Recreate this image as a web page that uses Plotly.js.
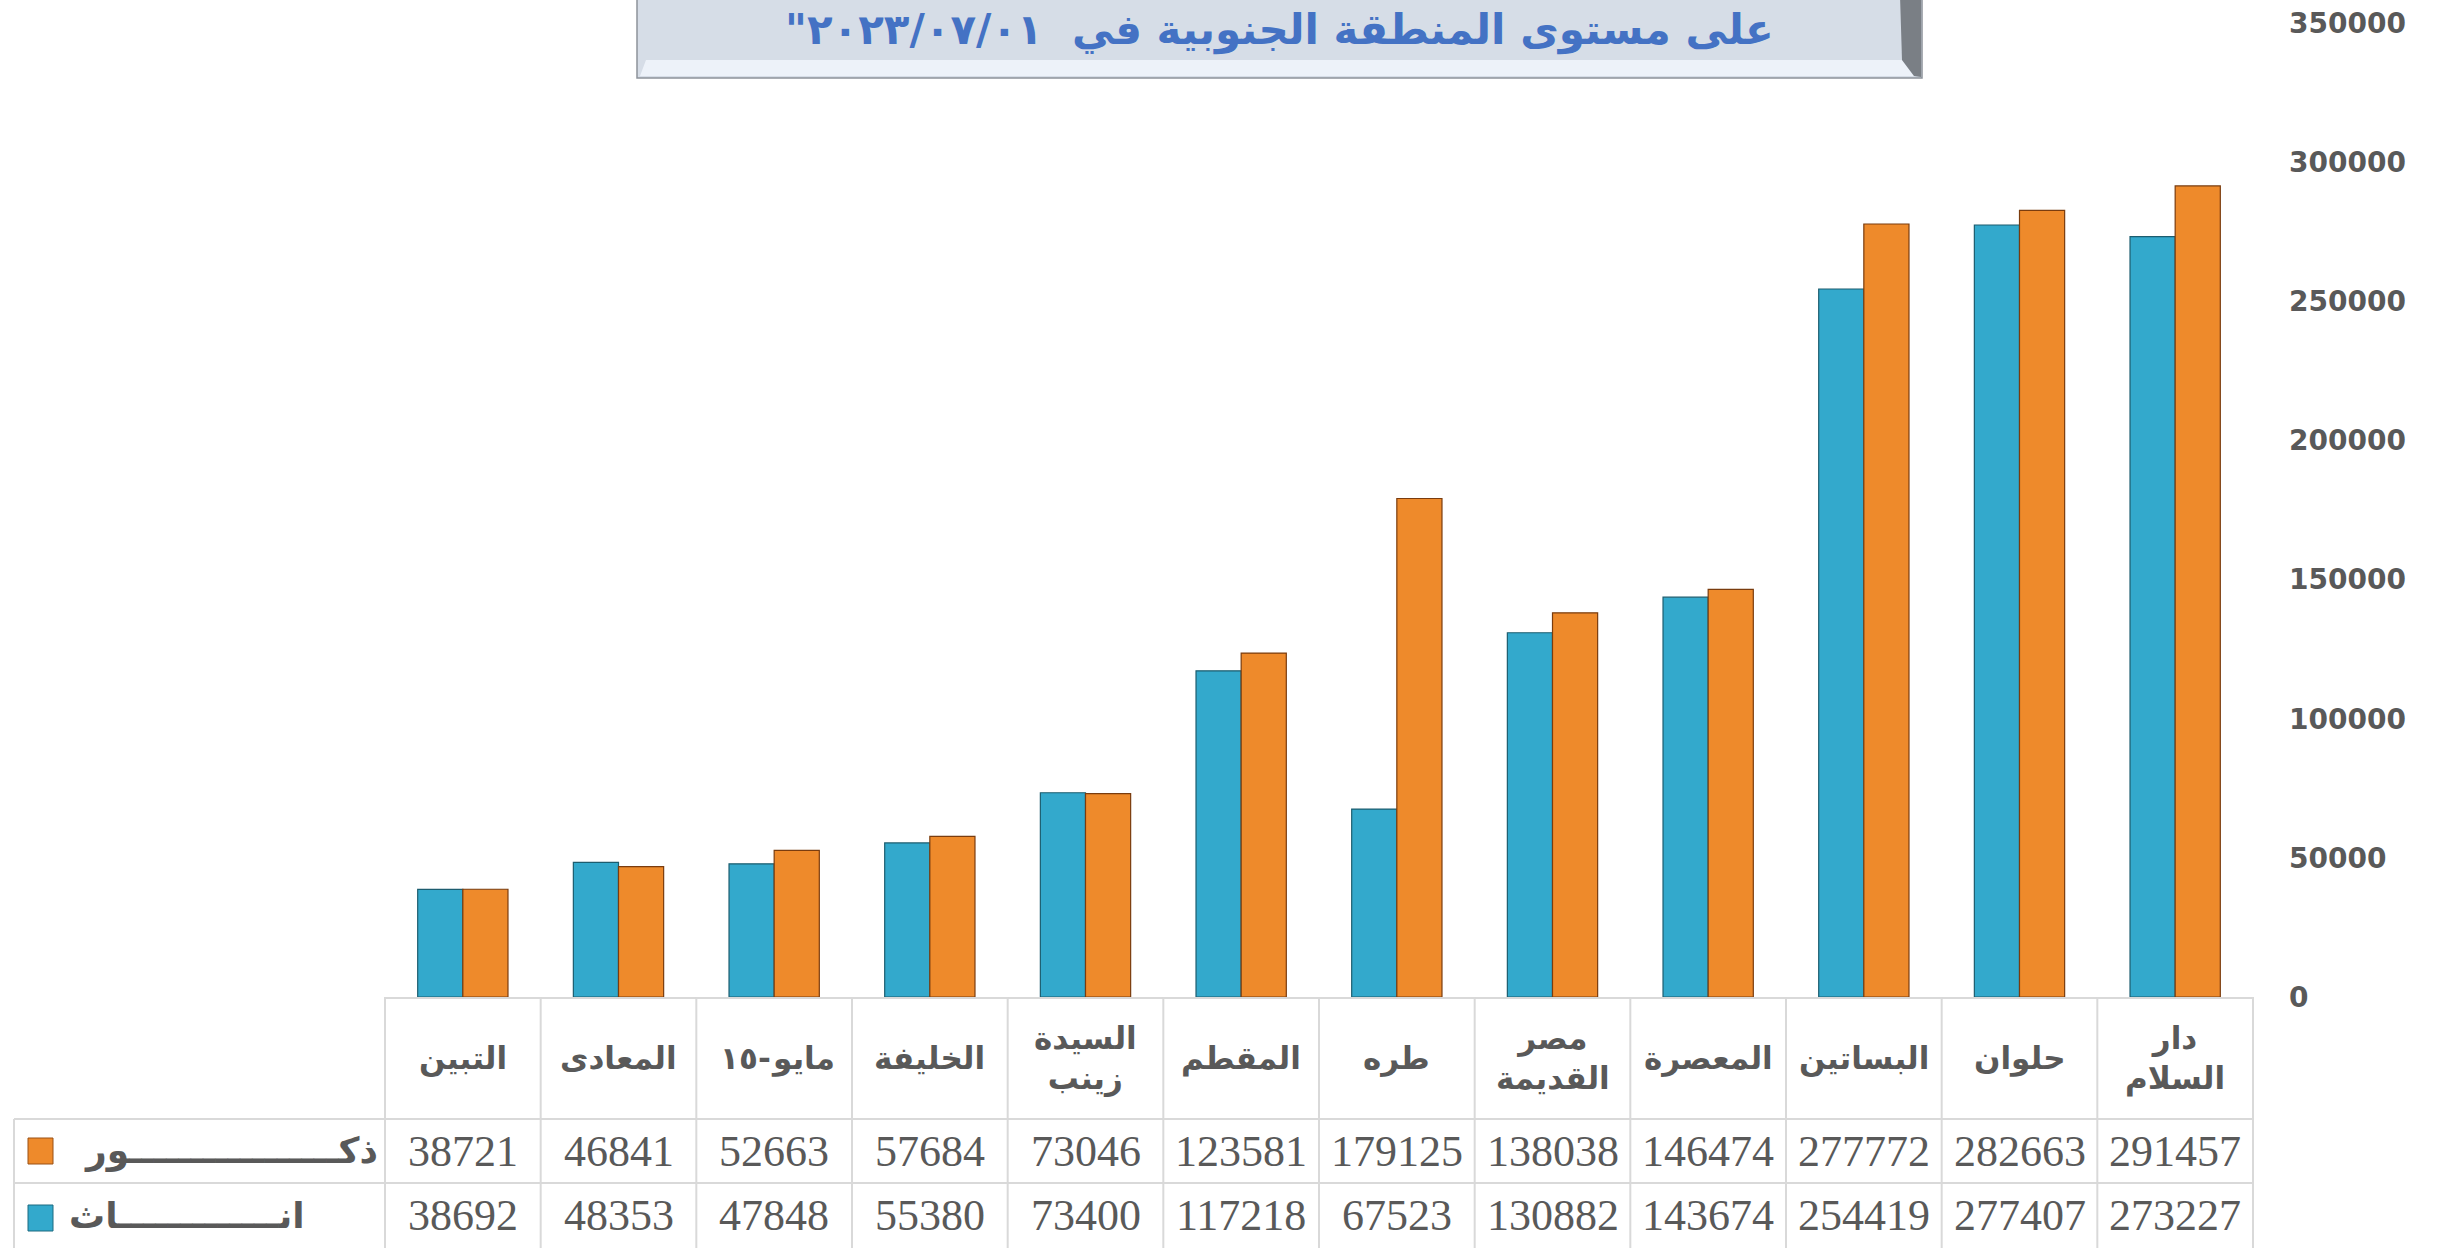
<!DOCTYPE html>
<html>
<head>
<meta charset="utf-8">
<script src="https://cdn.plot.ly/plotly-3.0.1.min.js"></script>
<style>
html,body{margin:0;padding:0;background:#fff;}
#chart{width:2448px;height:1248px;}
</style>
</head>
<body>
<div id="chart"></div>
<script>
// ---- data ----
const categories = ['التبين','المعادى','١٥-مايو','الخليفة','السيدة<br>زينب','المقطم','طره','مصر<br>القديمة','المعصرة','البساتين','حلوان','دار<br>السلام'];
const males   = [38721,46841,52663,57684,73046,123581,179125,138038,146474,277772,282663,291457];
const females = [38692,48353,47848,55380,73400,117218,67523,130882,143674,254419,277407,273227];
const maleParts = ['ذك', 'ور'];
const femaleParts = ['ان', 'اث'];
const titleText = 'على مستوى المنطقة الجنوبية في  ٢٠٢٣/٠٧/٠١"\u200F';
const yTicks = [0,50000,100000,150000,200000,250000,300000,350000];

// ---- layout geometry (pixels) ----
const W = 2448, H = 1248;
const plotL = 384, plotR = 2254, plotT = 23, plotB = 997;
const px2x = p => (p - plotL) / (plotR - plotL);
const py2y = p => (plotB - p) / (plotB - plotT);

const grey = '#595959';
const gridC = '#d9d9d9';

const ctx = document.createElement('canvas').getContext('2d');
function textW(t, fontCss) { ctx.font = fontCss; return ctx.measureText(t).width; }

// stretch a label with tatweel to a target width (like the spreadsheet original)
function stretch(parts, fontCss, target) {
  let n = 1, s = parts[0] + 'ـ' + parts[1];
  while (n < 40) {
    const t = parts[0] + 'ـ'.repeat(n + 1) + parts[1];
    if (textW(t, fontCss) > target) break;
    n++; s = t;
  }
  return s;
}
const labelFont = 'bold 36px "DejaVu Sans"';
const maleLabel = stretch(maleParts, labelFont, 300);
const femaleLabel = stretch(femaleParts, labelFont, 236);

const traces = [
  {type:'bar', name:'اناث', x:categories, y:females,
   marker:{color:'#33a9cc', line:{color:'#1c5d6f', width:1.2}}, showlegend:false, hoverinfo:'x+y'},
  {type:'bar', name:'ذكور', x:categories, y:males,
   marker:{color:'#ee8a2b', line:{color:'#7a3c0e', width:1.2}}, showlegend:false, hoverinfo:'x+y'}
];

const shapes = [];
const annotations = [];

// table geometry
const rowTop = plotB, row1 = 1119, row2 = 1183, rowBot = 1248;
const tableLeft = 14;

[row1, row2].forEach(py => shapes.push({type:'line', xref:'paper', yref:'paper',
  x0:px2x(tableLeft), x1:1, y0:py2y(py), y1:py2y(py), line:{color:gridC, width:2}}));
for (let i = 0; i <= categories.length; i++) {
  shapes.push({type:'line', xref:'x', yref:'paper', x0:i-0.5, x1:i-0.5,
    y0:0, y1:py2y(rowBot), line:{color:gridC, width:2}});
}
shapes.push({type:'line', xref:'paper', yref:'paper', x0:px2x(tableLeft), x1:px2x(tableLeft),
  y0:py2y(row1), y1:py2y(rowBot), line:{color:gridC, width:2}});

// legend keys
shapes.push({type:'rect', xref:'paper', yref:'paper', x0:px2x(28), x1:px2x(53), y0:py2y(1164), y1:py2y(1138),
  fillcolor:'#ee8a2b', line:{color:'#9a5014', width:1}});
shapes.push({type:'rect', xref:'paper', yref:'paper', x0:px2x(28), x1:px2x(53), y0:py2y(1231), y1:py2y(1205),
  fillcolor:'#33a9cc', line:{color:'#1c6a80', width:1}});

// title box
shapes.push({type:'rect', xref:'paper', yref:'paper', x0:px2x(637), x1:px2x(1922), y0:py2y(78), y1:py2y(-5),
  fillcolor:'#d6dde7', line:{color:'#8d939b', width:1.5}});
shapes.push({type:'path', xref:'paper', yref:'paper',
  path:`M ${px2x(646)},${py2y(60)} L ${px2x(1902)},${py2y(60)} L ${px2x(1914)},${py2y(76)} L ${px2x(640)},${py2y(76)} Z`,
  fillcolor:'#edf2f9', line:{width:0}});
shapes.push({type:'path', xref:'paper', yref:'paper',
  path:`M ${px2x(1900)},${py2y(-5)} L ${px2x(1921)},${py2y(-5)} L ${px2x(1921)},${py2y(77)} L ${px2x(1914)},${py2y(76)} L ${px2x(1902)},${py2y(60)} Z`,
  fillcolor:'#7a7f85', line:{width:0}});

annotations.push({xref:'paper', yref:'paper', x:px2x(1279), y:py2y(30), text:titleText, showarrow:false,
  xanchor:'center', yanchor:'middle', font:{family:'DejaVu Sans', size:42, color:'#4472c4', weight:'bold'}});

const yHead = py2y((rowTop + row1) / 2);
const yMale = py2y((row1 + row2) / 2);
const yFem = py2y((row2 + rowBot) / 2);
const headFont = {family:'DejaVu Sans', size:31, color:grey, weight:'bold'};
const headCss = 'bold 31px "DejaVu Sans"';
categories.forEach((c, i) => {
  if (c.includes('-')) {
    // number + hyphen + word, laid out left to right as in the original
    const [num, word] = c.split('-');
    const pieces = [num, '-', word];
    const widths = pieces.map(p => textW(p, headCss));
    const total = widths.reduce((a, b) => a + b, 0);
    let left = -total / 2;
    pieces.forEach((p, k) => {
      annotations.push({xref:'x', yref:'paper', x:c, y:yHead, text:p, showarrow:false,
        xanchor:'left', yanchor:'middle', xshift:left, font:headFont});
      left += widths[k];
    });
  } else {
    annotations.push({xref:'x', yref:'paper', x:c, y:yHead, text:c, showarrow:false,
      xanchor:'center', yanchor:'middle', font:headFont});
  }
  annotations.push({xref:'x', yref:'paper', x:c, y:yMale, text:String(males[i]), showarrow:false,
    xanchor:'center', yanchor:'middle',
    font:{family:'Liberation Serif', size:44, color:grey}});
  annotations.push({xref:'x', yref:'paper', x:c, y:yFem, text:String(females[i]), showarrow:false,
    xanchor:'center', yanchor:'middle',
    font:{family:'Liberation Serif', size:44, color:grey}});
});
annotations.push({xref:'paper', yref:'paper', x:px2x(380), y:yMale, text:maleLabel, showarrow:false,
  xanchor:'right', yanchor:'middle', font:{family:'DejaVu Sans', size:36, color:grey, weight:'bold'}});
annotations.push({xref:'paper', yref:'paper', x:px2x(307), y:yFem, text:femaleLabel, showarrow:false,
  xanchor:'right', yanchor:'middle', font:{family:'DejaVu Sans', size:36, color:grey, weight:'bold'}});

const layout = {
  width:W, height:H,
  margin:{l:plotL, r:W-plotR, t:plotT, b:H-plotB, pad:0},
  paper_bgcolor:'#ffffff', plot_bgcolor:'#ffffff',
  barmode:'group', bargap:0.42, bargroupgap:0,
  xaxis:{type:'category', showticklabels:false, showgrid:false, zeroline:false,
    showline:true, linecolor:gridC, linewidth:2, ticks:''},
  yaxis:{side:'right', range:[0,350000], tickvals:yTicks, ticktext:yTicks.map(String),
    showgrid:false, zeroline:false, showline:false, ticks:'', ticklabelstandoff:34,
    tickfont:{family:'DejaVu Sans', size:28, color:grey, weight:'bold'}},
  shapes:shapes, annotations:annotations, showlegend:false
};

Plotly.newPlot('chart', traces, layout, {displayModeBar:false, staticPlot:true});
</script>
</body>
</html>
